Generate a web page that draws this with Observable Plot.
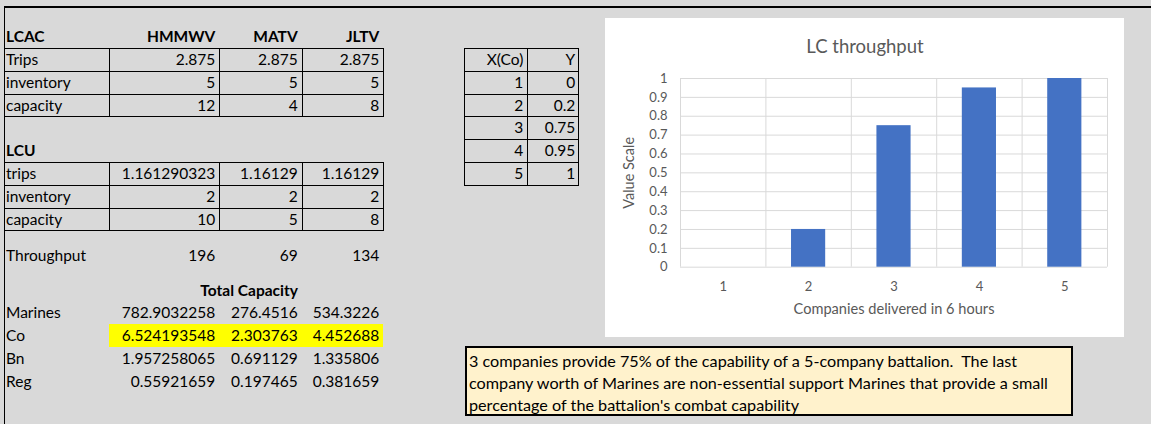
<!DOCTYPE html>
<html><head><meta charset="utf-8">
<script src="https://cdn.jsdelivr.net/npm/d3@7"></script>
<script src="https://cdn.jsdelivr.net/npm/@observablehq/plot@0.6"></script>
<style>
html,body{margin:0;padding:0;background:#d9d9d9;}
#page{position:relative;width:1151px;height:424px;overflow:hidden;background:#d9d9d9;font-family:Lato,"Open Sans",sans-serif;font-size:15.5px;color:#000;}
.c{position:absolute;box-sizing:border-box;white-space:nowrap;}
.ln{position:absolute;background:#000;}
#note{position:absolute;box-sizing:border-box;border:2px solid #000;background:#fff2cc;white-space:nowrap;}
</style></head><body><div id="page"></div>
<script>
// ---- data ----
const vehicles = ["HMMWV", "MATV", "JLTV"];
const lcacLabels = ["Trips", "inventory", "capacity"];
const lcacValues = [["2.875", "2.875", "2.875"], ["5", "5", "5"], ["12", "4", "8"]];
const lcuLabels = ["trips", "inventory", "capacity"];
const lcuValues = [["1.161290323", "1.16129", "1.16129"], ["2", "2", "2"], ["10", "5", "8"]];
const throughputValues = ["196", "69", "134"];
const totalLabels = ["Marines", "Co", "Bn", "Reg"];
const totalValues = [
  ["782.9032258", "276.4516", "534.3226"],
  ["6.524193548", "2.303763", "4.452688"],
  ["1.957258065", "0.691129", "1.335806"],
  ["0.55921659", "0.197465", "0.381659"]
];
const companies = [1, 2, 3, 4, 5];
const valueScale = [0, 0.2, 0.75, 0.95, 1];
const yTicks = [0, 0.1, 0.2, 0.3, 0.4, 0.5, 0.6, 0.7, 0.8, 0.9, 1];
const noteLines = [
  "3 companies provide 75% of the capability of a 5-company battalion.  The last",
  "company worth of Marines are non-essential support Marines that provide a small",
  "percentage of the battalion's combat capability"
];

// ---- layout ----
const page = document.getElementById("page");
const P = 22.8;
const colX = [4, 109, 219.3, 301.7, 383.3];
function cell(x, y, w, h, s, align, bold, extra) {
  const d = document.createElement("div");
  d.className = "c";
  d.textContent = s;
  Object.assign(d.style, {left: x + "px", top: y + "px", width: w + "px", height: h + "px",
    lineHeight: h + "px", textAlign: align || "left", fontWeight: bold ? "bold" : "normal",
    paddingLeft: align === "left" || !align ? "2px" : "0", paddingRight: align === "right" ? "4px" : "0"}, extra || {});
  page.appendChild(d);
  return d;
}
function line(x, y, w, h) {
  const d = document.createElement("div");
  d.className = "ln";
  Object.assign(d.style, {left: x + "px", top: y + "px", width: w + "px", height: h + "px"});
  page.appendChild(d);
}
// frame lines
line(4, 5.5, 1147, 2);
line(4, 5.5, 1, 419);

function block(title, titleTop, labels, values, top, borders) {
  cell(colX[0], titleTop, colX[1] - colX[0], P, title, "left", true);
  labels.forEach((lab, i) => {
    const y = top + i * P;
    cell(colX[0], y, colX[1] - colX[0], P, lab, "left");
    values[i].forEach((v, j) => cell(colX[j + 1], y, colX[j + 2] - colX[j + 1], P, v, "right"));
  });
  if (borders) {
    for (let i = 0; i <= labels.length; i++) line(colX[0], top + i * P, colX[4] - colX[0] + 1, 1);
    for (let j = 1; j < 5; j++) line(colX[j], top, 1, labels.length * P);
  }
}
// LCAC header with vehicles
block("LCAC", 48 - P, lcacLabels, lcacValues, 48, true);
vehicles.forEach((v, j) => cell(colX[j + 1], 48 - P, colX[j + 2] - colX[j + 1], P, v, "right", true));
block("LCU", 139.2, lcuLabels, lcuValues, 162, true);

// Throughput row
cell(colX[0], 243.6, colX[1] - colX[0], P, "Throughput", "left");
throughputValues.forEach((v, j) => cell(colX[j + 1], 243.6, colX[j + 2] - colX[j + 1], P, v, "right"));

// Total capacity
cell(colX[1], 278.6, colX[4] - colX[1], P, "Total Capacity", "center", true, {paddingLeft: "6px"});
const hl = document.createElement("div");
Object.assign(hl.style, {position: "absolute", left: colX[1] + "px", top: (278.6 + 2 * P) + "px",
  width: (colX[4] - colX[1]) + "px", height: P + "px", background: "#ffff00"});
page.appendChild(hl);
totalLabels.forEach((lab, i) => {
  const y = 278.6 + (i + 1) * P;
  cell(colX[0], y, colX[1] - colX[0], P, lab, "left");
  totalValues[i].forEach((v, j) => cell(colX[j + 1], y, colX[j + 2] - colX[j + 1], P, v, "right"));
});

// X(Co) / Y table
const tX = [464.3, 527.3, 578.3];
const tRows = [["X(Co)", "Y"]].concat(companies.map((c, i) => [String(c), String(valueScale[i])]));
tRows.forEach((r, i) => {
  const y = 48 + i * P;
  cell(tX[0], y, tX[1] - tX[0], P, r[0], "right");
  cell(tX[1], y, tX[2] - tX[1], P, r[1], "right", false, {paddingRight: "3px"});
});
for (let i = 0; i <= tRows.length; i++) line(tX[0], 48 + i * P, tX[2] - tX[0] + 1, 1);
for (let j = 0; j < 3; j++) line(tX[j], 48, 1, tRows.length * P);

// ---- chart ----
const bars = companies.map((c, i) => ({c, v: valueScale[i]}));
const bounds = companies.map(c => c - 0.5).concat([companies[companies.length - 1] + 0.5]);
const chart = Plot.plot({
  width: 519, height: 319,
  marginLeft: 75, marginRight: 17, marginTop: 60, marginBottom: 70.3,
  style: {background: "white", fontFamily: "Lato, sans-serif", color: "#595959", overflow: "visible"},
  x: {type: "linear", domain: [0.5, 5.5]},
  y: {domain: [0, 1]},
  marks: [
    Plot.ruleY(yTicks, {stroke: "#d9d9d9"}),
    Plot.ruleX(bounds, {stroke: "#d9d9d9"}),
    Plot.rectY(bars, {x1: d => d.c - 0.2, x2: d => d.c + 0.2, y: "v", fill: "#4472c4"}),
    Plot.axisY(yTicks, {tickSize: 0, tickPadding: 13, fontSize: 13, tickFormat: d => String(d), label: null}),
    Plot.axisX(companies, {tickSize: 0, tickPadding: 15, fontSize: 13, tickFormat: d => String(d), label: null}),
    Plot.text(["LC throughput"], {frameAnchor: "top", dx: -29, dy: -31, fontSize: 18.5, textAnchor: "middle", lineAnchor: "middle"}),
    Plot.text(["Value Scale"], {frameAnchor: "left", dx: -51, rotate: -90, fontSize: 14.5, textAnchor: "middle", lineAnchor: "middle"}),
    Plot.text(["Companies delivered in 6 hours"], {frameAnchor: "bottom", dy: 42, fontSize: 14.6, textAnchor: "middle", lineAnchor: "middle"})
  ]
});
Object.assign(chart.style, {position: "absolute", left: "605px", top: "18px"});
page.appendChild(chart);

// ---- note ----
const note = document.createElement("div");
note.id = "note";
Object.assign(note.style, {left: "465px", top: "346px", width: "608px", height: "70px",
  paddingLeft: "2px", paddingTop: "1.5px", lineHeight: "22.2px", fontSize: "16.2px"});
note.innerHTML = noteLines.map(s => s.replace(/  /g, " &nbsp;")).join("<br>");
page.appendChild(note);
</script></body></html>
